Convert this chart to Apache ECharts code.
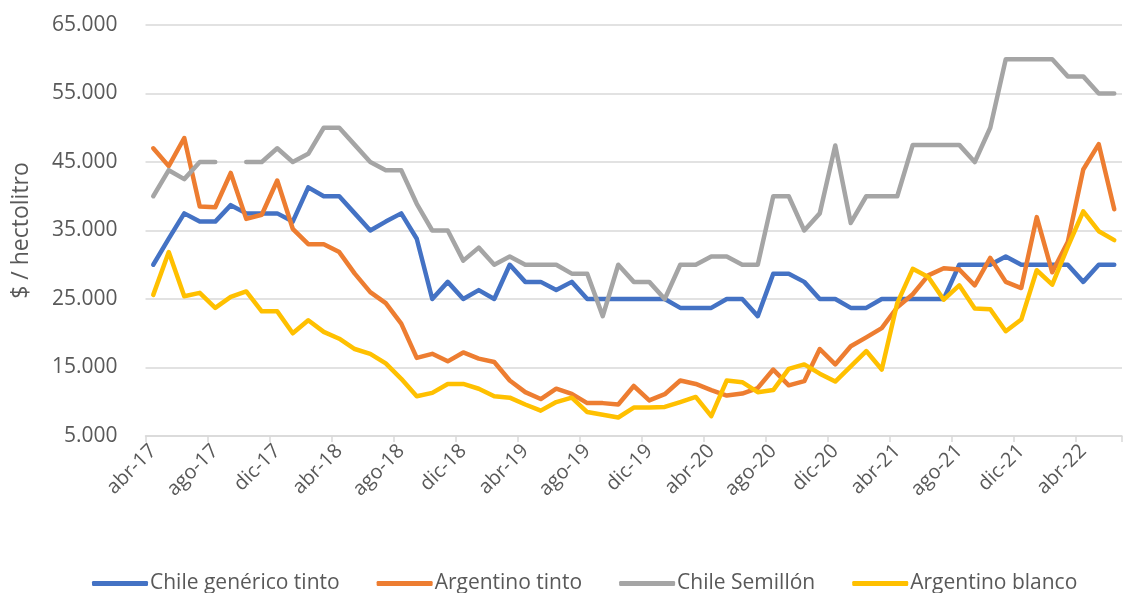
<!DOCTYPE html>
<html><head><meta charset="utf-8">
<script src="https://cdn.jsdelivr.net/npm/echarts@6/dist/echarts.min.js"></script>
<style>html,body{margin:0;padding:0;background:#fff}#c{width:1123px;height:593px}</style>
</head><body><div id="c"></div>
<script>
const categories = [
 'abr-17','may-17','jun-17','jul-17','ago-17','sep-17','oct-17','nov-17','dic-17',
 'ene-18','feb-18','mar-18','abr-18','may-18','jun-18','jul-18','ago-18','sep-18','oct-18','nov-18','dic-18',
 'ene-19','feb-19','mar-19','abr-19','may-19','jun-19','jul-19','ago-19','sep-19','oct-19','nov-19','dic-19',
 'ene-20','feb-20','mar-20','abr-20','may-20','jun-20','jul-20','ago-20','sep-20','oct-20','nov-20','dic-20',
 'ene-21','feb-21','mar-21','abr-21','may-21','jun-21','jul-21','ago-21','sep-21','oct-21','nov-21','dic-21',
 'ene-22','feb-22','mar-22','abr-22','may-22','jun-22'
];
const chileGenericoTinto = [
 30000,33800,37500,36300,36300,38700,37500,37500,37500,36300,41300,40000,40000,37500,35000,36300,37500,33800,25000,27500,25000,
 26300,25000,30000,27500,27500,26300,27500,25000,25000,25000,25000,25000,25000,23700,23700,23700,25000,25000,22500,28700,
 28700,27500,25000,25000,23700,23700,25000,25000,25000,25000,25000,30000,30000,30000,31200,30000,30000,30000,30000,27500,30000,30000
];
const argentinoTinto = [
 47000,44400,48500,38500,38400,43400,36700,37300,42300,35250,33000,33000,31850,28700,26000,24400,21400,16400,17000,15900,17200,
 16300,15800,13100,11400,10400,11900,11150,9800,9800,9600,12300,10200,11100,13100,12600,11700,10900,11200,12000,14700,
 12400,13000,17700,15450,18100,19400,20750,23800,25700,28450,29500,29300,27000,31000,27500,26600,36950,28900,33300,43900,47600,38100
];
const chileSemillon = [
 40000,43800,42500,45000,45000,null,45000,45000,47000,45000,46200,50000,50000,47500,45000,43800,43800,38900,35000,35000,30600,
 32500,30000,31200,30000,30000,30000,28700,28700,22500,30000,27500,27500,25000,30000,30000,31200,31200,30000,30000,40000,
 40000,35000,37500,47400,36100,40000,40000,40000,47500,47500,47500,47500,45000,50000,60000,60000,60000,60000,57500,57500,55000,55000
];
const argentinoBlanco = [
 25600,31850,25400,25900,23700,25300,26100,23200,23200,20000,21900,20200,19200,17700,17000,15600,13350,10800,11300,12600,12600,
 11900,10800,10600,9600,8700,9950,10600,8500,8100,7700,9150,9150,9250,9950,10700,7900,13100,12850,11400,11700,
 14800,15450,14100,12950,15150,17400,14700,24400,29400,28200,24900,27000,23600,23500,20300,22000,29200,27100,32600,37800,34900,33600
];
const seriesNames = ['Chile genérico tinto','Argentino tinto','Chile Semillón','Argentino blanco'];
const colors = ['#4472C4','#ED7D31','#A5A5A5','#FFC000'];
const yTicks = {min:5000, max:65000, interval:10000};

const chart = echarts.init(document.getElementById('c'), null, {renderer:'canvas'});
const font = '"Open Sans", "Liberation Sans", sans-serif';
const mk = (name, data, color) => ({
  name, type:'line', data, symbol:'none', connectNulls:false,
  lineStyle:{width:4.5, color, cap:'round', join:'round'}, itemStyle:{color}
});
chart.setOption({
  animation:false,
  color: colors,
  grid:{left:145.5, right:1, top:25, bottom:157, containLabel:false},
  legend:{
    top:568, left:87, itemGap:37, itemWidth:56, itemHeight:5, icon:'roundRect',
    textStyle:{fontSize:21, color:'#595959', fontFamily:font, padding:[0,0,0,-3]},
    data: seriesNames
  },
  xAxis:{
    type:'category', data:categories, boundaryGap:true,
    axisLine:{lineStyle:{color:'#D9D9D9', width:1.5}},
    axisTick:{show:true, interval:3, length:6, lineStyle:{color:'#D9D9D9', width:1.5}},
    axisLabel:{interval:3, rotate:45, fontSize:20, color:'#595959', fontFamily:font, margin:12},
    splitLine:{show:false}
  },
  yAxis:{
    type:'value', min:yTicks.min, max:yTicks.max, interval:yTicks.interval,
    name:'$ / hectolitro', nameLocation:'middle', nameGap:113, nameRotate:90,
    nameTextStyle:{fontSize:23, color:'#595959', fontFamily:font},
    axisLine:{show:false}, axisTick:{show:false},
    axisLabel:{fontSize:21, color:'#595959', fontFamily:font, margin:28,
      formatter: v => String(v).replace(/\B(?=(\d{3})+(?!\d))/g, '.')},
    splitLine:{lineStyle:{color:'#D9D9D9', width:1.5}}
  },
  series:[
    mk(seriesNames[0], chileGenericoTinto, colors[0]),
    mk(seriesNames[1], argentinoTinto, colors[1]),
    mk(seriesNames[2], chileSemillon, colors[2]),
    mk(seriesNames[3], argentinoBlanco, colors[3])
  ]
});
</script></body></html>
